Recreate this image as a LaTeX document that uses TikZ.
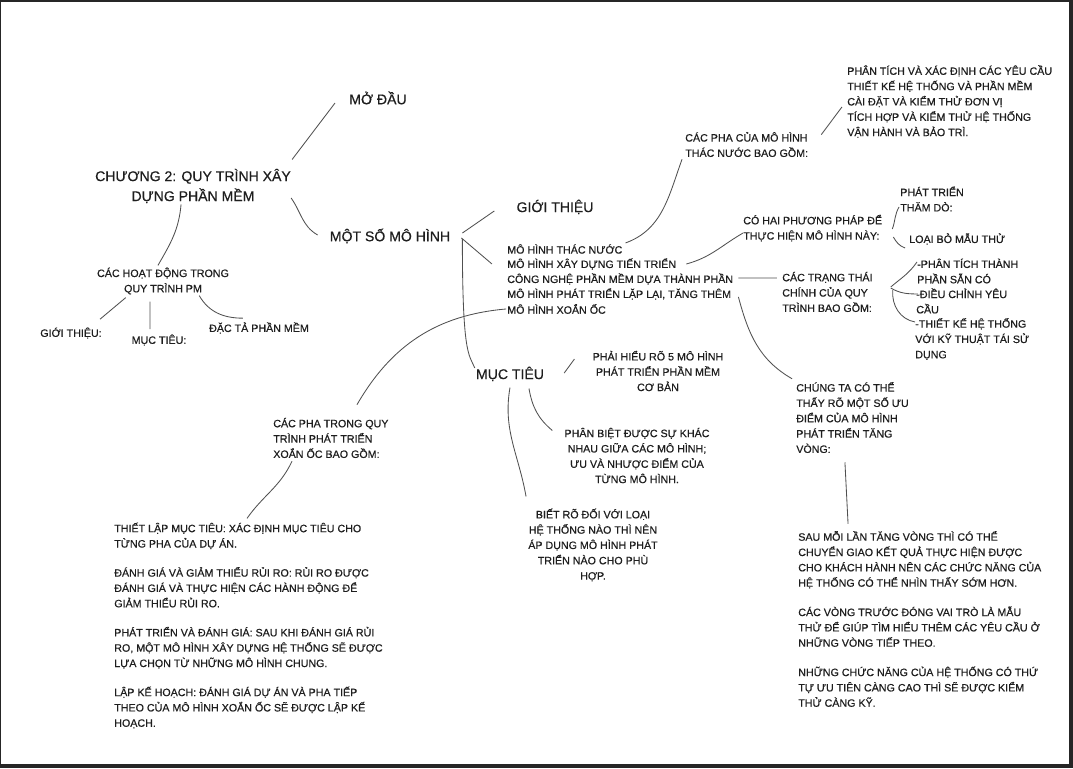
\documentclass[tikz,border=0pt]{standalone}
\usepackage{fontspec}
\setmainfont[FakeBold=0.5]{Liberation Sans}
\definecolor{ink}{HTML}{1E1E1E}
\definecolor{pen}{HTML}{505050}
\definecolor{frame}{HTML}{262626}
\begin{document}
\begin{tikzpicture}[
  txt/.style={inner sep=0pt, text=ink, align=left, font=\fontsize{7.6}{10.9}\selectfont},
  big/.style={inner sep=0pt, text=ink, align=center, font=\fontsize{10}{14.2}\selectfont},
  link/.style={pen, line width=0.6pt}]
% page and dark frame
\fill[frame] (0,0) rectangle (26.825,19.2);
\fill[white] (0.025,0.1) rectangle (26.725,19.15);
% main topics
\node[big] (title) at (4.825,14.55) {CHƯƠNG 2: QUY TRÌNH XÂY\\DỰNG PHẦN MỀM};
\node[big] (modau) at (9.45,16.75) {MỞ ĐẦU};
\node[big] (motso) at (9.75,13.3) {MỘT SỐ MÔ HÌNH};
\node[big] (gioithieu) at (13.875,14.025) {GIỚI THIỆU};
\node[big] (muctieu) at (12.75,9.85) {MỤC TIÊU};
% activities
\node[txt, align=center] (hoatdong) at (4.075,12.175) {CÁC HOẠT ĐỘNG TRONG\\QUY TRÌNH PM};
\node[txt] (gtA) at (1.775,10.875) {GIỚI THIỆU:};
\node[txt] (mtA) at (3.975,10.7) {MỤC TIÊU:};
\node[txt] (dacta) at (6.475,11.0) {ĐẶC TẢ PHẦN MỀM};
% list of models
\foreach \t [count=\i] in {MÔ HÌNH THÁC NƯỚC, MÔ HÌNH XÂY DỰNG TIẾN TRIỂN,
  CÔNG NGHỆ PHẦN MỀM DỰA THÀNH PHẦN, {MÔ HÌNH PHÁT TRIỂN LẶP LẠI, TĂNG THÊM}, MÔ HÌNH XOẮN ỐC}
  \node[txt, anchor=west] (mh\i) at (12.675,13.35-0.375*\i) {\t};
% waterfall
\node[txt, anchor=west] (thacnuoc) at (17.125,15.5875) {CÁC PHA CỦA MÔ HÌNH\\THÁC NƯỚC BAO GỒM:};
\node[txt, anchor=west] (phases) at (21.175,16.6625) {PHÂN TÍCH VÀ XÁC ĐỊNH CÁC YÊU CẦU\\THIẾT KẾ HỆ THỐNG VÀ PHẦN MỀM\\CÀI ĐẶT VÀ KIỂM THỬ ĐƠN VỊ\\TÍCH HỢP VÀ KIỂM THỬ HỆ THỐNG\\VẬN HÀNH VÀ BẢO TRÌ.};
% evolutionary
\node[txt, anchor=west] (cohai) at (18.575,13.5) {CÓ HAI PHƯƠNG PHÁP ĐỂ\\THỰC HIỆN MÔ HÌNH NÀY:};
\node[txt, anchor=west] (thamdo) at (22.5,14.225) {PHÁT TRIỂN\\THĂM DÒ:};
\node[txt, anchor=west] (loaibo) at (22.725,13.225) {LOẠI BỎ MẪU THỬ};
% component based
\node[txt, anchor=west] (trangthai) at (19.55,11.9) {CÁC TRẠNG THÁI\\CHÍNH CỦA QUY\\TRÌNH BAO GỒM:};
\node[txt, anchor=west] (tt1) at (22.925,12.425) {-PHÂN TÍCH THÀNH\\PHẦN SẴN CÓ};
\node[txt, anchor=west] (tt2) at (22.9,11.675) {-ĐIỀU CHỈNH YÊU\\CẦU};
\node[txt, anchor=west] (tt3) at (22.875,10.725) {-THIẾT KẾ HỆ THỐNG\\VỚI KỸ THUẬT TÁI SỬ\\DỤNG};
% incremental
\node[txt, anchor=west] (chungta) at (19.9,8.7625) {CHÚNG TA CÓ THỂ\\THẤY RÕ MỘT SỐ ƯU\\ĐIỂM CỦA MÔ HÌNH\\PHÁT TRIỂN TĂNG\\VÒNG:};
\node[txt, anchor=west] (bodyR) at (19.95,3.725) {SAU MỖI LẦN TĂNG VÒNG THÌ CÓ THỂ\\CHUYỂN GIAO KẾT QUẢ THỰC HIỆN ĐƯỢC\\CHO KHÁCH HÀNH NÊN CÁC CHỨC NĂNG CỦA\\HỆ THỐNG CÓ THỂ NHÌN THẤY SỚM HƠN.\\[10pt]
  CÁC VÒNG TRƯỚC ĐÓNG VAI TRÒ LÀ MẪU\\THỬ ĐỂ GIÚP TÌM HIỂU THÊM CÁC YÊU CẦU Ở\\NHỮNG VÒNG TIẾP THEO.\\[10pt]
  NHỮNG CHỨC NĂNG CỦA HỆ THỐNG CÓ THỨ\\TỰ ƯU TIÊN CÀNG CAO THÌ SẼ ĐƯỢC KIỂM\\THỬ CÀNG KỸ.};
% spiral
\node[txt, anchor=west] (xoanoc) at (6.825,8.25) {CÁC PHA TRONG QUY\\TRÌNH PHÁT TRIỂN\\XOẮN ỐC BAO GỒM:};
\node[txt, anchor=west] (bodyL) at (2.85,3.5625) {THIẾT LẬP MỤC TIÊU: XÁC ĐỊNH MỤC TIÊU CHO\\TỪNG PHA CỦA DỰ ÁN.\\[9.8pt]
  ĐÁNH GIÁ VÀ GIẢM THIỂU RỦI RO: RỦI RO ĐƯỢC\\ĐÁNH GIÁ VÀ THỰC HIỆN CÁC HÀNH ĐỘNG ĐỂ\\GIẢM THIỂU RỦI RO.\\[9.8pt]
  PHÁT TRIỂN VÀ ĐÁNH GIÁ: SAU KHI ĐÁNH GIÁ RỦI\\RO, MỘT MÔ HÌNH XÂY DỰNG HỆ THỐNG SẼ ĐƯỢC\\LỰA CHỌN TỪ NHỮNG MÔ HÌNH CHUNG.\\[9.8pt]
  LẬP KẾ HOẠCH: ĐÁNH GIÁ DỰ ÁN VÀ PHA TIẾP\\THEO CỦA MÔ HÌNH XOẮN ỐC SẼ ĐƯỢC LẬP KẾ\\HOẠCH.};
% goals
\node[txt, align=center] (mt1) at (16.45,9.925) {PHẢI HIỂU RÕ 5 MÔ HÌNH\\PHÁT TRIỂN PHẦN MỀM\\CƠ BẢN};
\node[txt, align=center] (mt2) at (15.925,7.8125) {PHÂN BIỆT ĐƯỢC SỰ KHÁC\\NHAU GIỮA CÁC MÔ HÌNH;\\ƯU VÀ NHƯỢC ĐIỂM CỦA\\TỪNG MÔ HÌNH.};
\node[txt, align=center] (mt3) at (14.825,5.575) {BIẾT RÕ ĐỐI VỚI LOẠI\\HỆ THỐNG NÀO THÌ NÊN\\ÁP DỤNG MÔ HÌNH PHÁT\\TRIỂN NÀO CHO PHÙ\\HỢP.};
% connectors
\draw[link] ([xshift=0.7pt,yshift=6.4pt]title.north east) -- ([xshift=-10pt,yshift=-3.6pt]modau.west);
\draw[link] ([yshift=-8.5pt]title.east) to[out=-55,in=150] ([xshift=-8.5pt,yshift=0.7pt]motso.west);
\draw[link] ([xshift=-8.5pt,yshift=-0.7pt]title.south) to[out=-95,in=60] ([xshift=-3.6pt,yshift=1.4pt]hoatdong.north);
\draw[link] ([xshift=20.6pt,yshift=-2.1pt]hoatdong.south west) -- ([xshift=-1.4pt,yshift=5.7pt]gtA.north east);
\draw[link] ([xshift=-9.2pt,yshift=-5pt]hoatdong.south) -- ([xshift=-6.4pt,yshift=3.6pt]mtA.north);
\draw[link] ([xshift=-21.3pt,yshift=-0.7pt]hoatdong.south east) to[out=-60,in=180] ([xshift=-11.4pt,yshift=2.8pt]dacta.north);
\draw[link] ([xshift=8.5pt,yshift=2.1pt]motso.east) -- ([xshift=-15.6pt,yshift=-2.8pt]gioithieu.west);
\draw[link] ([xshift=7.8pt,yshift=-1.4pt]motso.east) -- ([xshift=-10.7pt]mh2.west);
\draw[link] ([xshift=8.5pt,yshift=-2.1pt]motso.east) .. controls +(0,-2.9) and +(-0.15,0.35) .. ([xshift=-0.7pt,yshift=4.3pt]muctieu.west);
\draw[link] ([xshift=-0.7pt]mh5.west) to[out=185,in=60] ([xshift=59.7pt,yshift=9.2pt]xoanoc.north west);
\draw[link] ([xshift=13.5pt,yshift=-2.1pt]xoanoc.south west) to[out=-115,in=55] ([xshift=94.6pt,yshift=2.8pt]bodyL.north west);
\draw[link] ([xshift=2.1pt,yshift=4.3pt]mh1.east) to[out=20,in=-110] ([xshift=-2.1pt,yshift=-1.4pt]thacnuoc.south west);
\draw[link] ([xshift=9.2pt,yshift=-2.1pt]thacnuoc.north east) -- ([xshift=-3.6pt,yshift=-3.9pt]phases.west);
\draw[link] ([xshift=7.1pt]mh2.east) to[out=15,in=-150] ([yshift=-3.6pt]cohai.west);
\draw[link] ([xshift=7.1pt,yshift=-0.7pt]cohai.east) to[out=70,in=-120] ([xshift=-0.7pt,yshift=-5.7pt]thamdo.west);
\draw[link] ([xshift=7.8pt,yshift=-6.4pt]cohai.east) to[out=-60,in=160] ([xshift=-2.8pt,yshift=-6.4pt]loaibo.west);
\draw[link] ([xshift=3.6pt,yshift=0.7pt]mh3.east) -- ([xshift=-3.6pt,yshift=10pt]trangthai.west);
\draw[link] ([xshift=12.8pt,yshift=3.6pt]trangthai.east) to[out=40,in=-125] ([yshift=6.4pt]tt1.west);
\draw[link] ([xshift=12.8pt,yshift=2.8pt]trangthai.east) to[out=-30,in=180] ([xshift=1.4pt,yshift=5pt]tt2.west);
\draw[link] ([xshift=14.2pt,yshift=1.4pt]trangthai.east) to[out=-95,in=170] ([yshift=12.1pt]tt3.west);
\draw[link] ([xshift=5pt,yshift=-2.1pt]mh4.east) to[out=-75,in=150] ([xshift=-2.8pt,yshift=2.1pt]chungta.north west);
\draw[link] ([xshift=34.8pt,yshift=-6.4pt]chungta.south west) -- ([xshift=35.6pt,yshift=5pt]bodyR.north west);
\draw[link] ([xshift=14.2pt,yshift=0.7pt]muctieu.east) -- ([xshift=-12.8pt,yshift=8.5pt]mt1.west);
\draw[link] ([xshift=13.5pt,yshift=-5pt]muctieu.south) to[out=-80,in=140] ([xshift=-8.5pt,yshift=-2.1pt]mt2.north west);
\draw[link] ([yshift=-4.3pt]muctieu.south) to[out=-100,in=100] ([xshift=-1.4pt,yshift=8.5pt]mt3.north west);
\end{tikzpicture}
\end{document}
